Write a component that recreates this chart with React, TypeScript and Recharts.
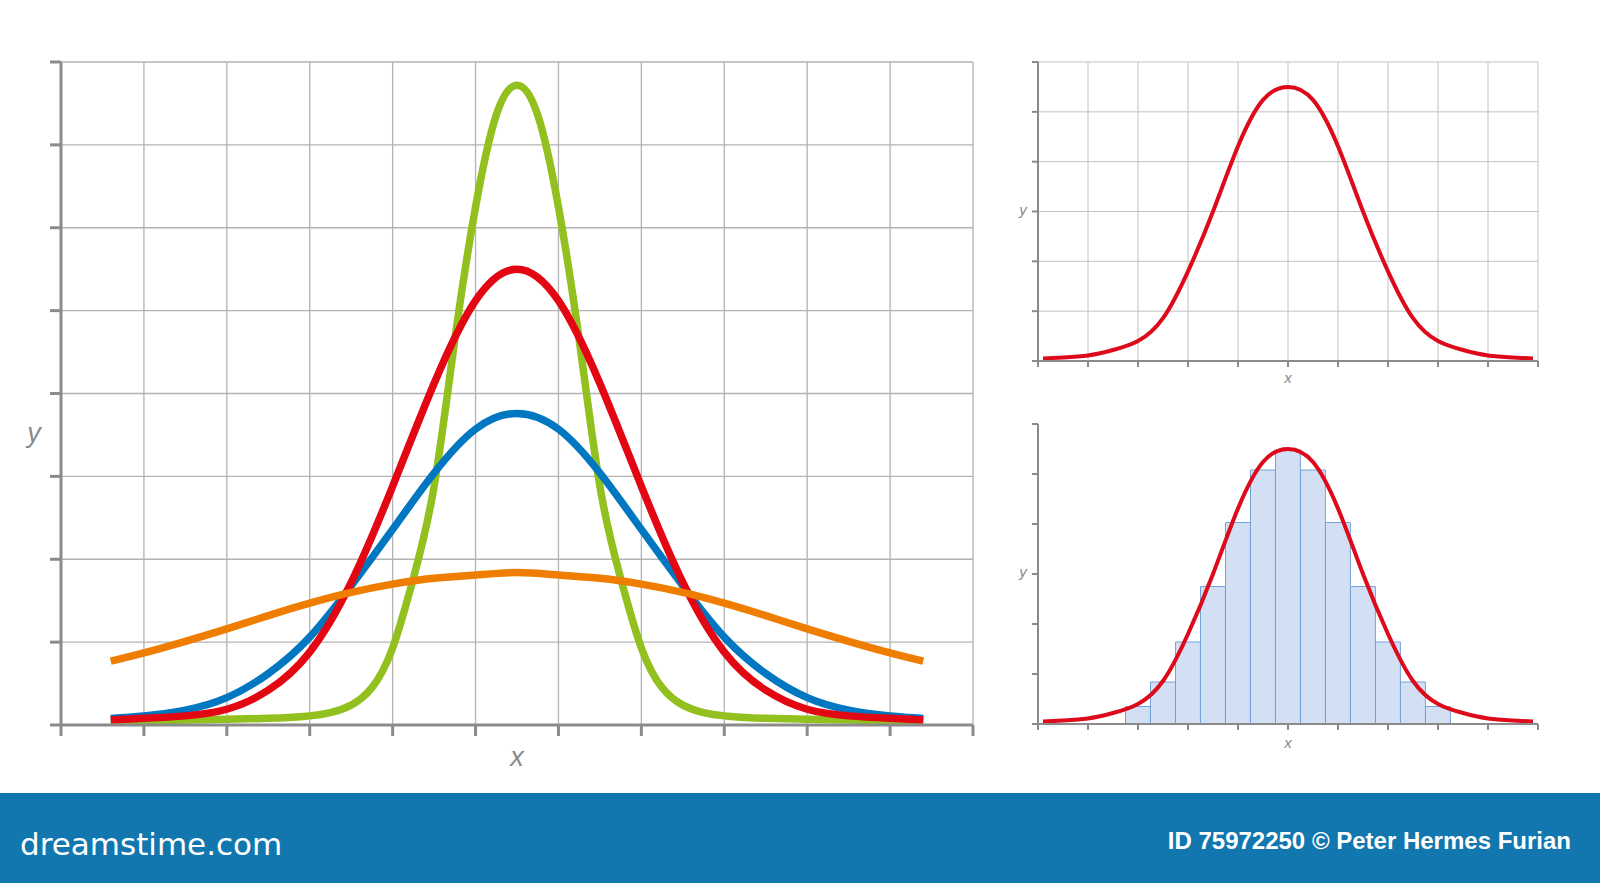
import React from 'react';
import { LineChart, Line, XAxis, YAxis, CartesianGrid, BarChart, Bar } from 'recharts';

// ---------- Main chart (four normal distributions) ----------
const mainX = [0.6, 1, 1.5, 2, 2.5, 3, 3.5, 4, 4.5, 5, 5.5, 6, 6.5, 7, 7.5, 8, 8.5, 9, 9.5, 10, 10.4];
const orangeY = [0.77, 0.87, 1.01, 1.16, 1.32, 1.47, 1.6, 1.7, 1.77, 1.81, 1.84, 1.81, 1.77, 1.7, 1.6, 1.47, 1.32, 1.16, 1.01, 0.87, 0.77];
const blueY = [0.08, 0.11, 0.18, 0.33, 0.62, 1.06, 1.68, 2.36, 3.04, 3.57, 3.76, 3.57, 3.04, 2.36, 1.68, 1.06, 0.62, 0.33, 0.18, 0.11, 0.08];
const redY = [0.06, 0.08, 0.11, 0.19, 0.42, 0.88, 1.72, 2.88, 4.12, 5.12, 5.5, 5.12, 4.12, 2.88, 1.72, 0.88, 0.42, 0.19, 0.11, 0.08, 0.06];
const greenX = [0.6, 1, 1.5, 2, 2.5, 2.75, 3, 3.25, 3.5, 3.75, 4, 4.25, 4.5, 4.75, 5, 5.25, 5.5, 5.75, 6, 6.25, 6.5, 6.75, 7, 7.25, 7.5, 7.75, 8, 8.25, 8.5, 9, 9.5, 10, 10.4];
const greenY = [0.05, 0.05, 0.06, 0.07, 0.08, 0.09, 0.11, 0.15, 0.24, 0.45, 0.93, 1.77, 2.88, 4.65, 6.25, 7.36, 7.72, 7.36, 6.25, 4.65, 2.88, 1.77, 0.93, 0.45, 0.24, 0.15, 0.11, 0.09, 0.08, 0.07, 0.06, 0.05, 0.05];
const mainXTicks = [0, 1, 2, 3, 4, 5, 6, 7, 8, 9, 10, 11];
const mainYTicks = [0, 1, 2, 3, 4, 5, 6, 7, 8];

// ---------- Small charts (bell curve, histogram) ----------
const bellX = [0.1, 0.5, 1, 1.5, 2, 2.5, 3, 3.5, 4, 4.5, 5, 5.5, 6, 6.5, 7, 7.5, 8, 8.5, 9, 9.5, 9.9];
const bellY = [0.05, 0.07, 0.11, 0.22, 0.4, 0.86, 1.8, 3.0, 4.31, 5.24, 5.5, 5.24, 4.31, 3.0, 1.8, 0.86, 0.4, 0.22, 0.11, 0.07, 0.05];
const histX = [2, 2.5, 3, 3.5, 4, 4.5, 5, 5.5, 6, 6.5, 7, 7.5, 8];
const histY = [0.35, 0.84, 1.64, 2.75, 4.03, 5.08, 5.48, 5.08, 4.03, 2.75, 1.64, 0.84, 0.35];
const smallXTicks = [0, 1, 2, 3, 4, 5, 6, 7, 8, 9, 10];
const smallYTicks = [0, 1, 2, 3, 4, 5, 6];

const mainRows = greenX.map((x, i) => {
  const j = mainX.indexOf(x);
  return {
    x,
    green: greenY[i],
    blue: j >= 0 ? blueY[j] : null,
    red: j >= 0 ? redY[j] : null,
    orange: j >= 0 ? orangeY[j] : null,
  };
});
const bellRows = bellX.map((x, i) => ({ x, y: bellY[i] }));
const histRows = histX.map((x, i) => ({ x, h: histY[i] }));

const AXIS = '#8b8b8b';
const LABEL = '#8a8a8a';
const FONT = '"Liberation Sans", Arial, sans-serif';

const emptyTick = () => <g />;

const mainXLabel = (p: any) => {
  const vb = p.viewBox;
  return (
    <text x={vb.x + vb.width / 2} y={vb.y + 41} textAnchor="middle" fill={LABEL} fontSize={27} fontStyle="italic" fontFamily={FONT}>x</text>
  );
};
const mainYLabel = (p: any) => {
  const vb = p.viewBox;
  return (
    <text x={vb.x + 13} y={vb.y + vb.height / 2 + 48} textAnchor="middle" fill={LABEL} fontSize={27} fontStyle="italic" fontFamily={FONT}>y</text>
  );
};
const smallXLabel = (dy: number) => (p: any) => {
  const vb = p.viewBox;
  return (
    <text x={vb.x + vb.width / 2} y={vb.y + dy} textAnchor="middle" fill={LABEL} fontSize={15} fontStyle="italic" fontFamily={FONT}>x</text>
  );
};
const smallYLabel = (p: any) => {
  const vb = p.viewBox;
  return (
    <text x={vb.x + 5} y={vb.y + vb.height / 2 + 3} textAnchor="middle" fill={LABEL} fontSize={15} fontStyle="italic" fontFamily={FONT}>y</text>
  );
};

function MainChart() {
  return (
    <LineChart width={1000} height={780} data={mainRows} margin={{ top: 62, right: 27, bottom: 5, left: 21 }}>
      <CartesianGrid stroke="#b3b3b3" strokeWidth={1.3} />
      <XAxis dataKey="x" type="number" domain={[0, 11]} ticks={mainXTicks} tick={emptyTick} tickSize={11} height={50}
        axisLine={{ stroke: AXIS, strokeWidth: 3 }} tickLine={{ stroke: AXIS, strokeWidth: 3 }} label={{ content: mainXLabel }} />
      <YAxis type="number" domain={[0, 8]} ticks={mainYTicks} tick={emptyTick} tickSize={11} width={40}
        axisLine={{ stroke: AXIS, strokeWidth: 3 }} tickLine={{ stroke: AXIS, strokeWidth: 3 }} label={{ content: mainYLabel }} />
      <Line dataKey="green" type="natural" stroke="#92c01f" strokeWidth={7.5} dot={false} activeDot={false} connectNulls isAnimationActive={false} />
      <Line dataKey="blue" type="natural" stroke="#0077c0" strokeWidth={7.5} dot={false} activeDot={false} connectNulls isAnimationActive={false} />
      <Line dataKey="red" type="natural" stroke="#e30613" strokeWidth={7.5} dot={false} activeDot={false} connectNulls isAnimationActive={false} />
      <Line dataKey="orange" type="natural" stroke="#ef7d00" strokeWidth={7.5} dot={false} activeDot={false} connectNulls isAnimationActive={false} />
    </LineChart>
  );
}

function TopRightChart() {
  return (
    <LineChart width={560} height={400} data={bellRows} margin={{ top: 62, right: 22, bottom: 9, left: 18 }}>
      <CartesianGrid stroke="#c2c2c2" strokeWidth={1} />
      <XAxis dataKey="x" type="number" domain={[0, 10]} ticks={smallXTicks} tick={emptyTick} tickSize={6} height={30}
        axisLine={{ stroke: AXIS, strokeWidth: 2 }} tickLine={{ stroke: AXIS, strokeWidth: 2 }} label={{ content: smallXLabel(22) }} />
      <YAxis type="number" domain={[0, 6]} ticks={smallYTicks} tick={emptyTick} tickSize={6} width={20}
        axisLine={{ stroke: AXIS, strokeWidth: 2 }} tickLine={{ stroke: AXIS, strokeWidth: 2 }} label={{ content: smallYLabel }} />
      <Line dataKey="y" type="natural" stroke="#dc0a1a" strokeWidth={4} dot={false} activeDot={false} isAnimationActive={false} />
    </LineChart>
  );
}

function BottomRightChart() {
  return (
    <div style={{ position: 'relative', width: 560, height: 380 }}>
      <div style={{ position: 'absolute', left: 0, top: 0 }}>
        <BarChart width={560} height={380} data={histRows} margin={{ top: 24, right: 22, bottom: 56, left: 38 }}>
          <XAxis dataKey="x" type="number" domain={[0, 10]} hide height={0} />
          <YAxis type="number" domain={[0, 6]} hide width={0} />
          <Bar dataKey="h" fill="#d3e0f4" stroke="#74a3da" strokeWidth={1} barSize={24.9} isAnimationActive={false} />
        </BarChart>
      </div>
      <div style={{ position: 'absolute', left: 0, top: 0 }}>
        <LineChart width={560} height={380} data={bellRows} margin={{ top: 24, right: 22, bottom: 26, left: 18 }}>
          <XAxis dataKey="x" type="number" domain={[0, 10]} ticks={smallXTicks} tick={emptyTick} tickSize={6} height={30}
            axisLine={{ stroke: AXIS, strokeWidth: 2 }} tickLine={{ stroke: AXIS, strokeWidth: 2 }} label={{ content: smallXLabel(24) }} />
          <YAxis type="number" domain={[0, 6]} ticks={smallYTicks} tick={emptyTick} tickSize={6} width={20}
            axisLine={{ stroke: AXIS, strokeWidth: 2 }} tickLine={{ stroke: AXIS, strokeWidth: 2 }} label={{ content: smallYLabel }} />
          <Line dataKey="y" type="natural" stroke="#dc0a1a" strokeWidth={4} dot={false} activeDot={false} isAnimationActive={false} />
        </LineChart>
      </div>
    </div>
  );
}

export default function App() {
  return (
    <div style={{ position: 'absolute', left: 0, top: 0, width: 1600, height: 883, background: '#ffffff', overflow: 'hidden' }}>
      <div style={{ position: 'absolute', left: 0, top: 0 }}>
        <MainChart />
      </div>
      <div style={{ position: 'absolute', left: 1000, top: 0 }}>
        <TopRightChart />
      </div>
      <div style={{ position: 'absolute', left: 1000, top: 400 }}>
        <BottomRightChart />
      </div>
      <div style={{ position: 'absolute', left: 0, top: 793, width: 1600, height: 90, background: '#1277ae' }}>
        <svg width={1600} height={90}>
          <text x={20} y={62} fill="#ffffff" fontSize={31} fontFamily='"DejaVu Sans", sans-serif'>dreamstime.com</text>
          <text x={1571} y={56} fill="#ffffff" fontSize={24} fontWeight="bold" textAnchor="end" fontFamily={FONT}>ID 75972250 © Peter Hermes Furian</text>
        </svg>
      </div>
    </div>
  );
}
